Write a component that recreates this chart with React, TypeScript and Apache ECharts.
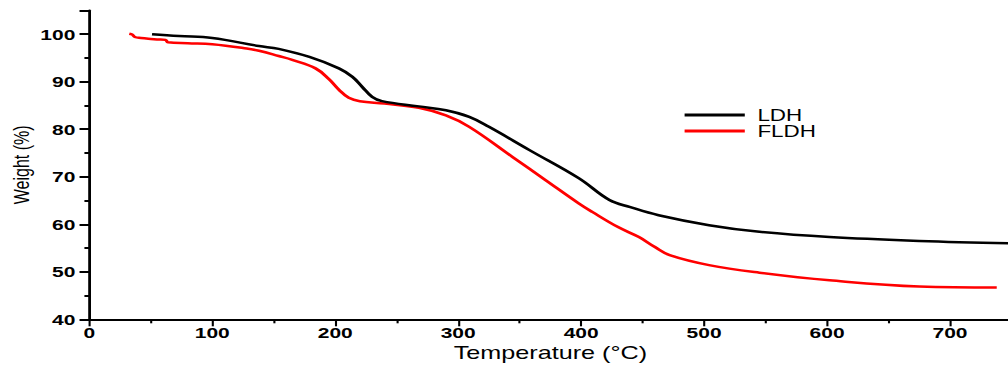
import React, { useEffect, useRef } from "react";
import * as echarts from "echarts";

const ldhTemp = [51, 73, 100, 138, 154, 179, 203, 214, 222, 230, 238, 268, 290, 309, 325, 358, 398, 423, 440, 463, 504, 545, 602, 675, 750];
const ldhWeight = [100.0, 99.6, 99.2, 97.5, 96.9, 95.2, 92.8, 91.0, 88.9, 86.8, 85.9, 84.8, 84.0, 82.6, 80.5, 75.6, 69.7, 65.1, 63.6, 61.9, 59.8, 58.4, 57.3, 56.5, 56.0];

const fldhTemp = [32.5, 35, 37, 42, 50, 55, 62, 64, 80, 100, 128, 138, 154, 165, 184, 195, 203, 211, 220, 240, 268, 290, 309, 344, 371, 398, 409, 430, 447, 460, 472, 504, 545, 602, 675, 738];
const fldhWeight = [100.1, 99.9, 99.4, 99.2, 99.0, 98.9, 98.8, 98.3, 98.1, 97.9, 97.0, 96.5, 95.4, 94.6, 92.8, 90.5, 88.3, 86.6, 85.9, 85.4, 84.5, 82.9, 80.5, 74.2, 69.3, 64.4, 62.6, 59.4, 57.3, 55.2, 53.5, 51.4, 49.8, 48.2, 46.9, 46.7];

const xTitle = "Temperature (°C)";
const yTitle = "Weight (%)";
const seriesNames = ["LDH", "FLDH"];

const STRETCH = 1.4;

export default function App() {
  const ref = useRef<HTMLDivElement>(null);
  useEffect(() => {
    if (!ref.current) return;
    const chart = echarts.init(ref.current, undefined, { renderer: "svg" });
    const zip = (xs: number[], ys: number[]) => xs.map((x, i) => [x, ys[i]]);
    chart.setOption({
      animation: false,
      backgroundColor: "#fff",
      grid: { left: 63.8, top: 10.4, width: 658.7, bottom: 45.7, outerBoundsMode: "none", containLabel: false },
      legend: {
        orient: "vertical",
        left: 489,
        top: 107,
        padding: 0,
        itemWidth: 43,
        itemHeight: 3,
        itemGap: 0,
        icon: "rect",
        data: seriesNames,
        textStyle: { fontFamily: "Liberation Sans", fontSize: 16, lineHeight: 16, color: "#000", padding: [0, 0, 0, 4] },
      },
      xAxis: {
        type: "value",
        min: 0,
        max: 750,
        interval: 100,
        name: xTitle,
        nameLocation: "middle",
        nameGap: 25,
        nameMoveOverlap: false,
        nameTextStyle: { fontFamily: "Liberation Sans", fontSize: 18, color: "#000", verticalAlign: "top" },
        axisLine: { show: true, onZero: false, lineStyle: { color: "#000", width: 2 } },
        axisTick: { show: true, inside: false, length: 7, lineStyle: { color: "#000", width: 1.5 } },
        minorTick: { show: true, splitNumber: 2, length: 4, lineStyle: { color: "#000", width: 1.5 } },
        splitLine: { show: false },
        axisLabel: {
          fontFamily: "Liberation Sans",
          fontWeight: "bold",
          fontSize: 15,
          color: "#000",
          margin: 6,
          showMaxLabel: false,
          formatter: (v: number) => (v > 700 ? "" : String(v)),
        },
      },
      yAxis: {
        type: "value",
        min: 40,
        max: 105,
        interval: 10,
        name: yTitle,
        nameLocation: "middle",
        nameGap: 41,
        nameRotate: 90,
        nameMoveOverlap: false,
        nameTextStyle: { fontFamily: "Liberation Sans", fontSize: 16, color: "#000" },
        axisLine: { show: true, onZero: false, lineStyle: { color: "#000", width: 2 } },
        axisTick: { show: true, inside: false, length: 7, lineStyle: { color: "#000", width: 2 } },
        minorTick: { show: true, splitNumber: 2, length: 3.5, lineStyle: { color: "#000", width: 2 } },
        splitLine: { show: false },
        axisLabel: {
          fontFamily: "Liberation Sans",
          fontWeight: "bold",
          fontSize: 15,
          color: "#000",
          margin: 10,
          formatter: (v: number) => (v > 100 ? "" : String(v)),
        },
      },
      series: [
        {
          name: seriesNames[1],
          type: "line",
          data: zip(fldhTemp, fldhWeight),
          symbol: "none",
          smooth: 0.4,
          color: "#ff0000",
          lineStyle: { color: "#ff0000", width: 2.5 },
        },
        {
          name: seriesNames[0],
          type: "line",
          data: zip(ldhTemp, ldhWeight),
          symbol: "none",
          smooth: 0.4,
          color: "#000",
          lineStyle: { color: "#000", width: 2.5 },
        },
      ],
    });
    return () => chart.dispose();
  }, []);
  return (
    <div
      style={{
        position: "fixed",
        left: 0,
        top: 0,
        width: 1008,
        height: 365,
        overflow: "hidden",
        background: "#fff",
      }}
    >
      <div
        ref={ref}
        style={{
          width: 1008 / STRETCH,
          height: 365,
          transform: `scaleX(${STRETCH})`,
          transformOrigin: "0 0",
        }}
      />
    </div>
  );
}
